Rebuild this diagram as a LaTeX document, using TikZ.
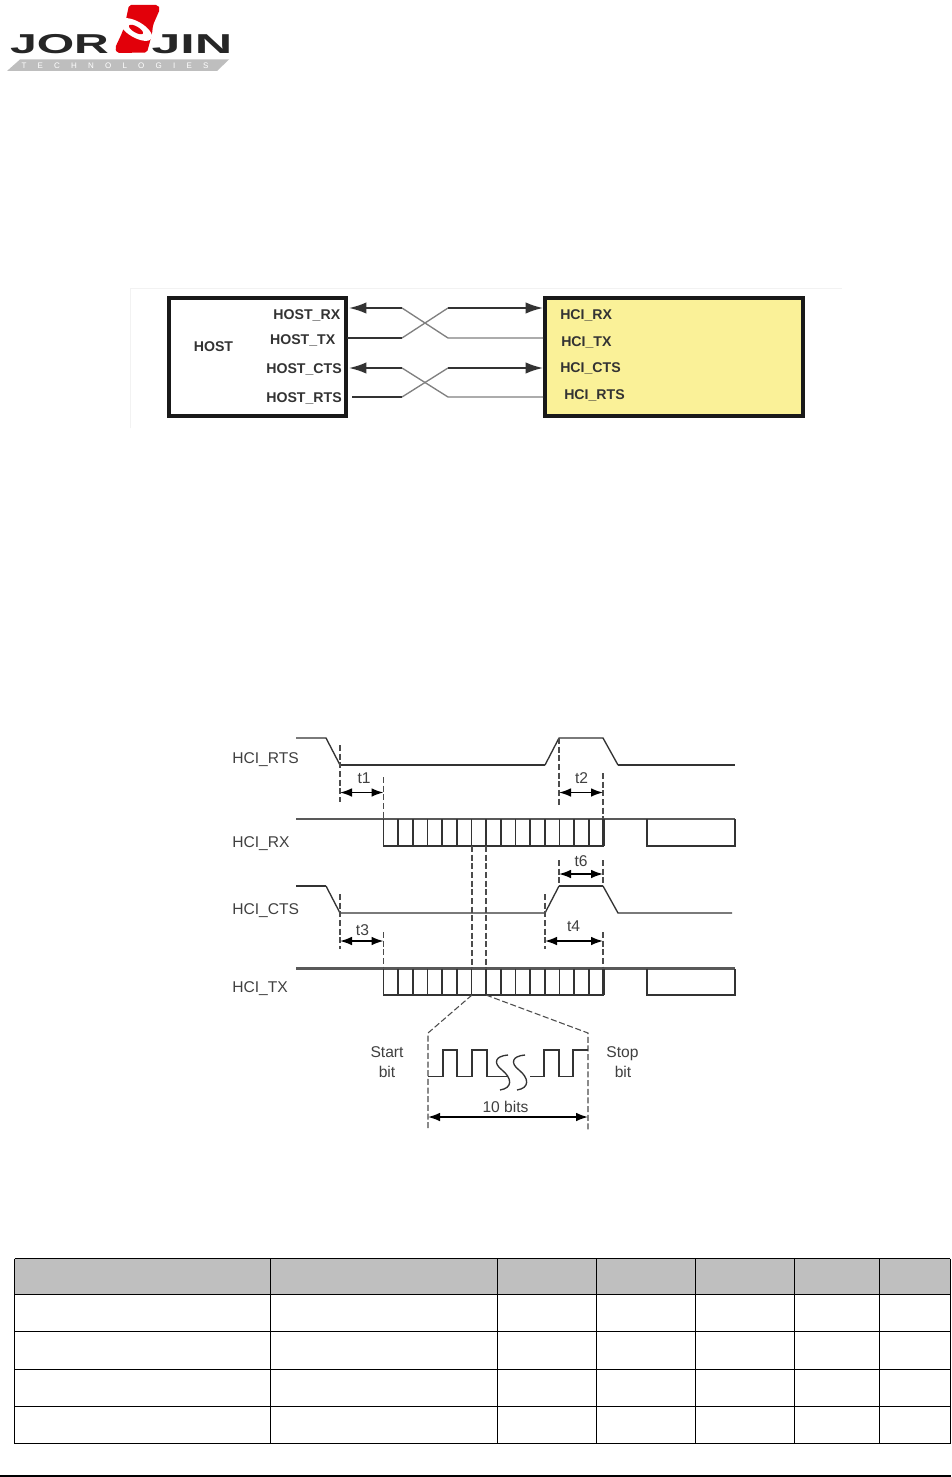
\documentclass[tikz,border=0pt]{standalone}
\usepackage{fontspec}
\setmainfont{Liberation Sans}
\newfontfamily\tagfont[LetterSpace=140]{Liberation Sans}
\usetikzlibrary{arrows.meta}
\definecolor{hciyellow}{RGB}{250,241,152}
\definecolor{logored}{RGB}{226,0,10}
\definecolor{logogray}{RGB}{190,190,190}
\definecolor{headgray}{RGB}{191,191,191}
\tikzset{
  boxbold/.style={draw=black!90,line width=2.7pt,inner sep=0pt,outer sep=0pt},
  pinlabel/.style={font=\bfseries\fontsize{10.6}{12}\selectfont,text=black!80,inner sep=0pt},
  siglabel/.style={font=\fontsize{11.7}{13}\selectfont,text=black!75,inner sep=0pt},
  wiredark/.style={draw=black!80,line width=1.3pt},
  wirelight/.style={draw=black!50,line width=1pt},
  wirehead/.style={-{Latex[length=13pt,width=8.5pt]}},
  sig/.style={draw=black!80,line width=1pt},
  tick/.style={draw=black!70,line width=0.8pt,dash pattern=on 4.5pt off 2pt},
  span/.style={{Latex[length=9pt,width=6.5pt]}-{Latex[length=9pt,width=6.5pt]},line width=1.1pt},
  grid/.style={draw=black,line width=0.75pt}
}
\begin{document}
\begin{tikzpicture}[x=0.75pt,y=-0.75pt]
\useasboundingbox (0,0) rectangle (951,1477);
\fill[white] (0,0) rectangle (951,1477);
% logo
\fill[logored,rounded corners=1.5pt] (129,5)--(158,5)--(160,9)--(153,25)--(152,34)--(147,52.5)--(117,53)--(115,48)--(122,33)--(125,24)--cycle;
\fill[white,rotate around={-30:(136,29.5)}] (136,29.5) ellipse (18 and 8);
\fill[logored,rotate around={-30:(136,29.5)}] (136,29.5) ellipse (8 and 3);
\fill[logogray] (20,59.5)--(229,59.5)--(217,71)--(7,71)--cycle;
\node[inner sep=0pt,text=black!85,font=\bfseries\fontsize{20.5}{22}\selectfont] (jor) at (59.5,44) {\scalebox{1.76}[1]{JOR}};
\node[inner sep=0pt,text=black!85,font=\bfseries\fontsize{20.5}{22}\selectfont] (jin) at (192,44) {\scalebox{1.9}[1]{JIN}};
\node[inner sep=0pt,text=white,font=\tagfont\fontsize{6}{7}\selectfont] (tech) at (115,65.3) {TECHNOLOGIES};

% host and module
\draw[black!5,line width=0.5pt] (130,428)--(130,288)--(842,288);
\node[boxbold,fill=white,minimum width=132.75pt,minimum height=88.5pt] (host) at (257.5,357) {};
\node[boxbold,fill=hciyellow,minimum width=193.5pt,minimum height=88.5pt] (hci) at (674,357) {};
\node[pinlabel] (lhost) at (213.5,346.5) {HOST};
\node[pinlabel,anchor=east] (hrx) at (340.5,315) {HOST\_RX};
\node[pinlabel,anchor=east] (htx) at (335.5,340) {HOST\_TX};
\node[pinlabel,anchor=east] (hcts) at (342,369) {HOST\_CTS};
\node[pinlabel,anchor=east] (hrts) at (342,398) {HOST\_RTS};
\node[pinlabel,anchor=west] (mrx) at (560,315.5) {HCI\_RX};
\node[pinlabel,anchor=west] (mtx) at (561,342) {HCI\_TX};
\node[pinlabel,anchor=west] (mcts) at (560,368) {HCI\_CTS};
\node[pinlabel,anchor=west] (mrts) at (564,395) {HCI\_RTS};
\coordinate (p1) at (349,308);
\coordinate (p2) at (347,338);
\coordinate (p3) at (349,368);
\coordinate (p4) at (352,397);
\coordinate (q1) at (543,308);
\coordinate (q2) at (543,338);
\coordinate (q3) at (543,368);
\coordinate (q4) at (543,397);
\draw[wirelight] (402,308)--(448,338)--(q2);
\draw[wirelight] (402,338)--(448,308);
\draw[wirelight] (402,368)--(448,397)--(q4);
\draw[wirelight] (402,397)--(448,368);
\draw[wiredark,wirehead] (402,308)--(p1);
\draw[wiredark] (p2)--(402,338);
\draw[wiredark,wirehead] (402,368)--(p3);
\draw[wiredark] (p4)--(402,397);
\draw[wiredark,wirehead] (448,308)--(q1);
\draw[wiredark,wirehead] (448,368)--(q3);

% timing
\node[siglabel,anchor=west] (rts) at (232,759.5) {HCI\_RTS};
\node[siglabel,anchor=west] (rx) at (232,844) {HCI\_RX};
\node[siglabel,anchor=west] (cts) at (232,911) {HCI\_CTS};
\node[siglabel,anchor=west] (tx) at (232,988.5) {HCI\_TX};
\draw[sig] (296,738)--(326,738)--(340,765);
\draw[sig,line width=1.4pt] (340,765)--(545,765);
\draw[sig] (545,765)--(559,738)--(603,738)--(618,765);
\draw[sig,line width=1.4pt] (618,765)--(735,765);
\draw[sig,line width=1.8pt] (296,886)--(326,886);
\draw[sig] (326,886)--(340,913)--(545,913)--(559,886);
\draw[sig,line width=1.8pt] (559,886)--(603,886);
\draw[sig] (603,886)--(618,913)--(732,913);
% two data rows
\foreach \ytop/\ybot/\wd in {819/846/1.3pt,968.5/995/2pt}{
  \draw[sig,line width=\wd,draw=black!65] (296,\ytop)--(735,\ytop);
  \draw[sig,line width=1.1pt] (383.5,\ytop)--(383.5,\ybot)--(603.5,\ybot);
  \foreach \i in {1,...,14} \draw[sig,line width=1.1pt] ({383.5+14.67*\i},\ytop)--({383.5+14.67*\i},\ybot);
  \draw[sig,line width=1.6pt] (603.5,\ytop)--(603.5,\ybot);
  \draw[sig,line width=1.1pt] (647,\ytop)--(647,\ybot)--(735,\ybot)--(735,\ytop);
}
\draw[tick] (340,745)--(340,802);
\draw[tick] (383.5,777)--(383.5,819);
\draw[tick] (559,738)--(559,805);
\draw[tick] (603,773)--(603,819);
\draw[tick] (559,860)--(559,886);
\draw[tick] (603,860)--(603,886);
\draw[tick] (340,894)--(340,949);
\draw[tick] (383.5,932)--(383.5,968);
\draw[tick] (545,894)--(545,949);
\draw[tick] (603,932)--(603,968);
\draw[tick,line width=1.4pt] (472,846)--(472,968);
\draw[tick,line width=1.4pt] (486,846)--(486,968);
\draw[span] (340,792.5)--(383.5,792.5);
\draw[span] (559,792.5)--(603,792.5);
\draw[span] (559,874)--(603,874);
\draw[span] (340,941)--(383.5,941);
\draw[span] (545,941)--(603,941);
\node[siglabel] (t1) at (364,778) {t1};
\node[siglabel] (t2) at (581.5,778) {t2};
\node[siglabel] (t6) at (581,861) {t6};
\node[siglabel] (t3) at (362.5,930.5) {t3};
\node[siglabel] (t4) at (573.5,926.5) {t4};

% one frame
\draw[tick] (472,995)--(428,1033)--(428,1130);
\draw[tick] (486,995)--(588,1033)--(588,1130);
\draw[sig,line width=1.4pt] (428,1076.5)--(443,1076.5)--(443,1050)--(457,1050)--(457,1076.5)--(472,1076.5)--(472,1050)--(487,1050)--(487,1076.5)--(507,1076.5);
\draw[sig,line width=1.4pt] (530,1076.5)--(544,1076.5)--(544,1050)--(559,1050)--(559,1076.5)--(573,1076.5)--(573,1050)--(588,1050);
\foreach \dx in {0,17}
  \draw[sig] ({508+\dx},1055) .. controls ({495+\dx},1056) and ({493+\dx},1063) .. ({502+\dx},1070) .. controls ({512+\dx},1078) and ({513+\dx},1088) .. ({500+\dx},1090);
\draw[span] (428,1117)--(588,1117);
\node[siglabel] (bits) at (505.5,1107) {10 bits};
\node[siglabel] (st1) at (387,1052) {Start};
\node[siglabel] (st2) at (387,1072) {bit};
\node[siglabel] (sp1) at (622.5,1054) {Stop};
\node[siglabel] (sp2) at (623,1072) {bit};

% table
\fill[headgray] (14.5,1258.5) rectangle (950,1294.5);
\foreach \y in {1258.5,1294.5,1331.5,1369.5,1406.5,1443.5} \draw[grid] (14.5,\y)--(950,\y);
\foreach \x in {14.5,270.5,497.5,596.5,695.5,794.5,879.5,950} \draw[grid] (\x,1258.5)--(\x,1443.5);
\draw[black,line width=1.5pt] (0,1475.7)--(951,1475.7);
\end{tikzpicture}
\end{document}
